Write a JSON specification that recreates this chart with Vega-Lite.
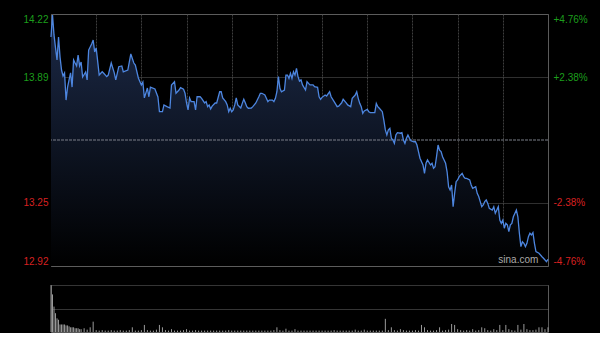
{
  "$schema": "https://vega.github.io/schema/vega-lite/v6.json",
  "background": "#000000",
  "padding": {"left": 0, "top": 11, "right": 0, "bottom": 0},
  "spacing": 17,
  "config": {
    "view": {"stroke": "#5a5a5a", "strokeWidth": 1},
    "axis": {"labelFont": "Liberation Sans", "labelFontSize": 10}
  },
  "datasets": {
    "price": [
      {"t":0,"p":14.101},{"t":1,"p":14.215},{"t":2,"p":14.112},{"t":3,"p":14.045},{"t":4,"p":13.983},{"t":5,"p":14.101},{"t":6,"p":13.998},{"t":7,"p":13.931},{"t":8,"p":13.900},{"t":9,"p":13.916},{"t":10,"p":13.776},{"t":11,"p":13.843},{"t":12,"p":13.880},{"t":13,"p":13.916},{"t":14,"p":13.843},{"t":15,"p":13.983},{"t":16,"p":13.967},{"t":17,"p":13.952},{"t":18,"p":14.008},{"t":19,"p":13.952},{"t":20,"p":13.972},{"t":21,"p":13.895},{"t":23,"p":13.921},{"t":24,"p":13.880},{"t":25,"p":14.034},{"t":27,"p":14.065},{"t":28,"p":14.086},{"t":29,"p":14.024},{"t":30,"p":14.045},{"t":32,"p":13.905},{"t":34,"p":13.922},{"t":35,"p":13.914},{"t":37,"p":13.897},{"t":38,"p":13.905},{"t":40,"p":13.967},{"t":42,"p":13.916},{"t":43,"p":13.880},{"t":45,"p":13.948},{"t":47,"p":13.952},{"t":48,"p":13.922},{"t":51,"p":13.931},{"t":53,"p":14.014},{"t":55,"p":13.967},{"t":56,"p":13.957},{"t":58,"p":13.890},{"t":60,"p":13.854},{"t":61,"p":13.869},{"t":62,"p":13.787},{"t":64,"p":13.838},{"t":65,"p":13.793},{"t":66,"p":13.843},{"t":69,"p":13.833},{"t":71,"p":13.792},{"t":72,"p":13.716},{"t":74,"p":13.716},{"t":75,"p":13.751},{"t":77,"p":13.742},{"t":79,"p":13.735},{"t":80,"p":13.854},{"t":82,"p":13.871},{"t":83,"p":13.811},{"t":85,"p":13.828},{"t":86,"p":13.840},{"t":88,"p":13.832},{"t":89,"p":13.811},{"t":90,"p":13.761},{"t":91,"p":13.725},{"t":92,"p":13.787},{"t":93,"p":13.768},{"t":95,"p":13.768},{"t":96,"p":13.725},{"t":97,"p":13.793},{"t":99,"p":13.793},{"t":100,"p":13.785},{"t":102,"p":13.761},{"t":103,"p":13.768},{"t":104,"p":13.742},{"t":105,"p":13.751},{"t":106,"p":13.730},{"t":107,"p":13.745},{"t":109,"p":13.761},{"t":110,"p":13.761},{"t":112,"p":13.819},{"t":113,"p":13.819},{"t":114,"p":13.787},{"t":116,"p":13.768},{"t":117,"p":13.751},{"t":118,"p":13.716},{"t":119,"p":13.734},{"t":120,"p":13.716},{"t":121,"p":13.725},{"t":122,"p":13.751},{"t":123,"p":13.787},{"t":124,"p":13.751},{"t":126,"p":13.735},{"t":127,"p":13.759},{"t":128,"p":13.780},{"t":129,"p":13.762},{"t":130,"p":13.742},{"t":131,"p":13.734},{"t":133,"p":13.735},{"t":134,"p":13.742},{"t":136,"p":13.761},{"t":138,"p":13.793},{"t":139,"p":13.811},{"t":140,"p":13.811},{"t":142,"p":13.802},{"t":143,"p":13.785},{"t":144,"p":13.768},{"t":145,"p":13.776},{"t":147,"p":13.776},{"t":148,"p":13.768},{"t":149,"p":13.785},{"t":150,"p":13.819},{"t":151,"p":13.897},{"t":152,"p":13.837},{"t":153,"p":13.819},{"t":155,"p":13.828},{"t":156,"p":13.905},{"t":157,"p":13.905},{"t":158,"p":13.888},{"t":159,"p":13.914},{"t":160,"p":13.888},{"t":161,"p":13.922},{"t":162,"p":13.905},{"t":163,"p":13.940},{"t":164,"p":13.897},{"t":165,"p":13.874},{"t":166,"p":13.880},{"t":167,"p":13.854},{"t":169,"p":13.828},{"t":170,"p":13.871},{"t":171,"p":13.862},{"t":172,"p":13.854},{"t":174,"p":13.854},{"t":175,"p":13.845},{"t":177,"p":13.842},{"t":178,"p":13.793},{"t":179,"p":13.780},{"t":180,"p":13.790},{"t":182,"p":13.802},{"t":183,"p":13.797},{"t":185,"p":13.819},{"t":186,"p":13.793},{"t":188,"p":13.768},{"t":190,"p":13.742},{"t":191,"p":13.745},{"t":193,"p":13.762},{"t":194,"p":13.780},{"t":196,"p":13.762},{"t":197,"p":13.751},{"t":199,"p":13.742},{"t":200,"p":13.785},{"t":202,"p":13.802},{"t":203,"p":13.819},{"t":204,"p":13.785},{"t":205,"p":13.759},{"t":206,"p":13.742},{"t":207,"p":13.708},{"t":208,"p":13.720},{"t":210,"p":13.728},{"t":211,"p":13.716},{"t":212,"p":13.711},{"t":214,"p":13.711},{"t":215,"p":13.711},{"t":216,"p":13.759},{"t":217,"p":13.742},{"t":218,"p":13.734},{"t":220,"p":13.716},{"t":221,"p":13.673},{"t":222,"p":13.622},{"t":223,"p":13.596},{"t":224,"p":13.622},{"t":225,"p":13.630},{"t":226,"p":13.579},{"t":227,"p":13.570},{"t":228,"p":13.553},{"t":229,"p":13.596},{"t":230,"p":13.608},{"t":232,"p":13.605},{"t":233,"p":13.608},{"t":234,"p":13.570},{"t":235,"p":13.553},{"t":236,"p":13.579},{"t":237,"p":13.596},{"t":238,"p":13.579},{"t":239,"p":13.566},{"t":241,"p":13.561},{"t":242,"p":13.561},{"t":243,"p":13.544},{"t":244,"p":13.510},{"t":245,"p":13.476},{"t":247,"p":13.441},{"t":248,"p":13.398},{"t":249,"p":13.450},{"t":250,"p":13.467},{"t":252,"p":13.441},{"t":253,"p":13.450},{"t":254,"p":13.424},{"t":255,"p":13.432},{"t":256,"p":13.484},{"t":257,"p":13.544},{"t":258,"p":13.518},{"t":259,"p":13.510},{"t":260,"p":13.484},{"t":262,"p":13.450},{"t":263,"p":13.406},{"t":264,"p":13.329},{"t":265,"p":13.312},{"t":266,"p":13.338},{"t":267,"p":13.226},{"t":268,"p":13.295},{"t":269,"p":13.355},{"t":270,"p":13.364},{"t":271,"p":13.381},{"t":273,"p":13.398},{"t":274,"p":13.381},{"t":275,"p":13.372},{"t":276,"p":13.372},{"t":278,"p":13.364},{"t":279,"p":13.338},{"t":280,"p":13.321},{"t":282,"p":13.329},{"t":283,"p":13.295},{"t":284,"p":13.278},{"t":285,"p":13.252},{"t":286,"p":13.226},{"t":287,"p":13.235},{"t":288,"p":13.252},{"t":289,"p":13.261},{"t":290,"p":13.243},{"t":291,"p":13.218},{"t":293,"p":13.209},{"t":294,"p":13.226},{"t":295,"p":13.192},{"t":296,"p":13.209},{"t":297,"p":13.226},{"t":298,"p":13.157},{"t":299,"p":13.140},{"t":300,"p":13.157},{"t":301,"p":13.115},{"t":302,"p":13.140},{"t":303,"p":13.132},{"t":304,"p":13.097},{"t":305,"p":13.132},{"t":306,"p":13.140},{"t":307,"p":13.174},{"t":309,"p":13.209},{"t":310,"p":13.174},{"t":311,"p":13.089},{"t":312,"p":13.020},{"t":313,"p":13.045},{"t":314,"p":13.037},{"t":315,"p":13.020},{"t":316,"p":13.037},{"t":317,"p":13.071},{"t":318,"p":13.089},{"t":319,"p":13.080},{"t":320,"p":13.092},{"t":321,"p":13.037},{"t":322,"p":12.994},{"t":324,"p":12.986},{"t":326,"p":12.968},{"t":327,"p":12.960},{"t":329,"p":12.942},{"t":330,"p":12.955}
    ],
    "vol": [
      {"t":0,"v":100},{"t":1,"v":80},{"t":2,"v":54},{"t":3,"v":40},{"t":4,"v":29},{"t":5,"v":26},{"t":6,"v":16},{"t":7,"v":16},{"t":8,"v":16},{"t":9,"v":16},{"t":10,"v":14},{"t":11,"v":14},{"t":12,"v":12},{"t":13,"v":10},{"t":14,"v":10},{"t":15,"v":10},{"t":16,"v":8},{"t":17,"v":8},{"t":18,"v":8},{"t":19,"v":6},{"t":20,"v":6},{"t":22,"v":8},{"t":24,"v":5},{"t":26,"v":10},{"t":28,"v":22},{"t":30,"v":4},{"t":32,"v":3},{"t":34,"v":4},{"t":36,"v":3},{"t":38,"v":3},{"t":40,"v":4},{"t":42,"v":3},{"t":44,"v":3},{"t":46,"v":4},{"t":48,"v":3},{"t":50,"v":3},{"t":52,"v":4},{"t":54,"v":10},{"t":56,"v":3},{"t":58,"v":3},{"t":60,"v":4},{"t":62,"v":15},{"t":64,"v":4},{"t":66,"v":3},{"t":68,"v":3},{"t":70,"v":5},{"t":72,"v":15},{"t":74,"v":10},{"t":76,"v":4},{"t":78,"v":3},{"t":80,"v":6},{"t":82,"v":3},{"t":84,"v":3},{"t":86,"v":3},{"t":88,"v":4},{"t":90,"v":6},{"t":92,"v":3},{"t":94,"v":3},{"t":96,"v":4},{"t":98,"v":3},{"t":100,"v":3},{"t":102,"v":3},{"t":104,"v":3},{"t":106,"v":3},{"t":108,"v":3},{"t":110,"v":3},{"t":112,"v":3},{"t":114,"v":3},{"t":116,"v":3},{"t":118,"v":4},{"t":120,"v":3},{"t":122,"v":3},{"t":124,"v":3},{"t":126,"v":3},{"t":128,"v":3},{"t":130,"v":3},{"t":132,"v":3},{"t":134,"v":3},{"t":136,"v":3},{"t":138,"v":3},{"t":140,"v":3},{"t":142,"v":3},{"t":144,"v":3},{"t":146,"v":3},{"t":148,"v":4},{"t":150,"v":10},{"t":152,"v":4},{"t":154,"v":3},{"t":156,"v":7},{"t":158,"v":3},{"t":160,"v":3},{"t":162,"v":6},{"t":164,"v":3},{"t":166,"v":3},{"t":168,"v":3},{"t":170,"v":3},{"t":172,"v":3},{"t":174,"v":3},{"t":176,"v":3},{"t":178,"v":3},{"t":180,"v":3},{"t":182,"v":3},{"t":184,"v":3},{"t":186,"v":3},{"t":188,"v":4},{"t":190,"v":3},{"t":192,"v":3},{"t":194,"v":3},{"t":196,"v":3},{"t":198,"v":3},{"t":200,"v":3},{"t":202,"v":5},{"t":204,"v":3},{"t":206,"v":3},{"t":208,"v":5},{"t":210,"v":3},{"t":212,"v":3},{"t":214,"v":3},{"t":216,"v":3},{"t":218,"v":3},{"t":220,"v":3},{"t":222,"v":28},{"t":224,"v":4},{"t":226,"v":10},{"t":228,"v":4},{"t":230,"v":3},{"t":232,"v":6},{"t":234,"v":4},{"t":236,"v":3},{"t":238,"v":3},{"t":240,"v":3},{"t":242,"v":4},{"t":244,"v":3},{"t":246,"v":15},{"t":248,"v":10},{"t":250,"v":4},{"t":252,"v":3},{"t":254,"v":3},{"t":256,"v":4},{"t":258,"v":10},{"t":260,"v":3},{"t":262,"v":4},{"t":264,"v":5},{"t":266,"v":17},{"t":268,"v":15},{"t":270,"v":6},{"t":272,"v":4},{"t":274,"v":3},{"t":276,"v":4},{"t":278,"v":3},{"t":280,"v":6},{"t":282,"v":3},{"t":284,"v":4},{"t":286,"v":10},{"t":288,"v":8},{"t":290,"v":4},{"t":292,"v":3},{"t":294,"v":6},{"t":296,"v":4},{"t":298,"v":15},{"t":300,"v":4},{"t":302,"v":15},{"t":304,"v":6},{"t":306,"v":4},{"t":308,"v":3},{"t":310,"v":15},{"t":312,"v":5},{"t":314,"v":17},{"t":316,"v":6},{"t":318,"v":4},{"t":320,"v":4},{"t":322,"v":5},{"t":324,"v":10},{"t":326,"v":10},{"t":328,"v":6},{"t":330,"v":10}
    ]
  },
  "vconcat": [
    {
      "width": 497,
      "height": 252,
      "layer": [
        {
          "data": {"name": "price"},
          "mark": {
            "type": "area",
            "color": {"gradient": "linear", "x1": 0, "y1": 0, "x2": 0, "y2": 1, "stops": [{"offset": 0, "color": "#1c2a48"}, {"offset": 1, "color": "#000000"}]}
          },
          "encoding": {
            "x": {"field": "t", "type": "quantitative", "scale": {"domain": [0, 330], "nice": false},
              "axis": {"title": null, "values": [30, 60, 90, 120, 150, 180, 210, 240, 270, 300], "labels": false, "ticks": false, "domain": false, "grid": true, "gridColor": "#3e3e3e", "gridDash": [2, 1], "minExtent": 0, "maxExtent": 0}},
            "y": {"field": "p", "type": "quantitative", "scale": {"domain": [12.92, 14.22], "zero": false, "nice": false},
              "axis": {"title": null, "orient": "left", "values": [12.92, 13.246, 13.894, 14.22], "format": ".2f", "labelFlush": true, "labelPadding": 3, "ticks": false, "domain": false, "grid": true, "gridColor": "#5e5e5e", "gridDash": [1, 1], "minExtent": 50, "maxExtent": 50,
                "labelColor": {"condition": {"test": "datum.value > 13.57", "value": "#1c9e1c"}, "value": "#d82020"}}},
            "y2": {"datum": 12.92}
          }
        },
        {
          "data": {"values": [{"p": 13.57}]},
          "mark": {"type": "rule", "color": "#7a7f88", "strokeDash": [3, 1], "strokeWidth": 1},
          "encoding": {"y": {"field": "p", "type": "quantitative", "axis": null}}
        },
        {
          "data": {"name": "price"},
          "mark": {"type": "line", "color": "#4d86e0", "strokeWidth": 1.3},
          "encoding": {
            "x": {"field": "t", "type": "quantitative", "scale": {"domain": [0, 330], "nice": false},
              "axis": {"title": null, "values": [30, 60, 90, 120, 150, 180, 210, 240, 270, 300], "labels": false, "ticks": false, "domain": false, "grid": true, "gridColor": "#3e3e3e", "gridDash": [2, 1], "minExtent": 0, "maxExtent": 0}},
            "y": {"field": "p", "type": "quantitative",
              "axis": {"title": null, "orient": "right", "values": [12.92, 13.246, 13.894, 14.22], "labelFlush": true, "labelPadding": 5, "ticks": false, "domain": false, "grid": false, "minExtent": 52, "maxExtent": 52,
                "labelExpr": "datum.value > 14 ? '+4.76%' : datum.value > 13.6 ? '+2.38%' : datum.value > 13 ? '-2.38%' : '-4.76%'",
                "labelColor": {"condition": {"test": "datum.value > 13.57", "value": "#1c9e1c"}, "value": "#d82020"}}}
          }
        },
        {
          "data": {"values": [{"t": 297, "p": 12.935, "s": "sina.com"}]},
          "mark": {"type": "text", "align": "left", "baseline": "alphabetic", "color": "#aaaaaa", "font": "Liberation Sans", "fontSize": 10},
          "encoding": {
            "x": {"field": "t", "type": "quantitative", "scale": {"domain": [0, 330], "nice": false}, "axis": {"title": null, "values": [30, 60, 90, 120, 150, 180, 210, 240, 270, 300], "labels": false, "ticks": false, "domain": false, "grid": true, "gridColor": "#3e3e3e", "gridDash": [2, 1], "minExtent": 0, "maxExtent": 0}},
            "y": {"field": "p", "type": "quantitative", "axis": null},
            "text": {"field": "s"}
          }
        }
      ],
      "resolve": {"axis": {"y": "independent"}}
    },
    {
      "width": 497,
      "height": 47,
      "view": {"stroke": null},
      "data": {"name": "vol"},
      "mark": {"type": "rule", "color": "#9a9a9a", "strokeWidth": 1},
      "encoding": {
        "x": {"field": "t", "type": "quantitative", "scale": {"domain": [0, 330], "nice": false},
          "axis": {"title": null, "values": [0, 330], "labels": false, "ticks": false, "domain": true, "domainColor": "#5a5a5a", "grid": true, "gridColor": "#5a5a5a", "minExtent": 0, "maxExtent": 0}},
        "y": {"field": "v", "type": "quantitative", "scale": {"domain": [0, 100], "nice": false},
          "axis": {"title": null, "values": [50, 100], "labels": false, "ticks": false, "domain": false, "grid": true, "gridColor": "#6a6a6a", "gridDash": [1, 1], "minExtent": 50, "maxExtent": 50}},
        "y2": {"datum": 0}
      }
    }
  ]
}
